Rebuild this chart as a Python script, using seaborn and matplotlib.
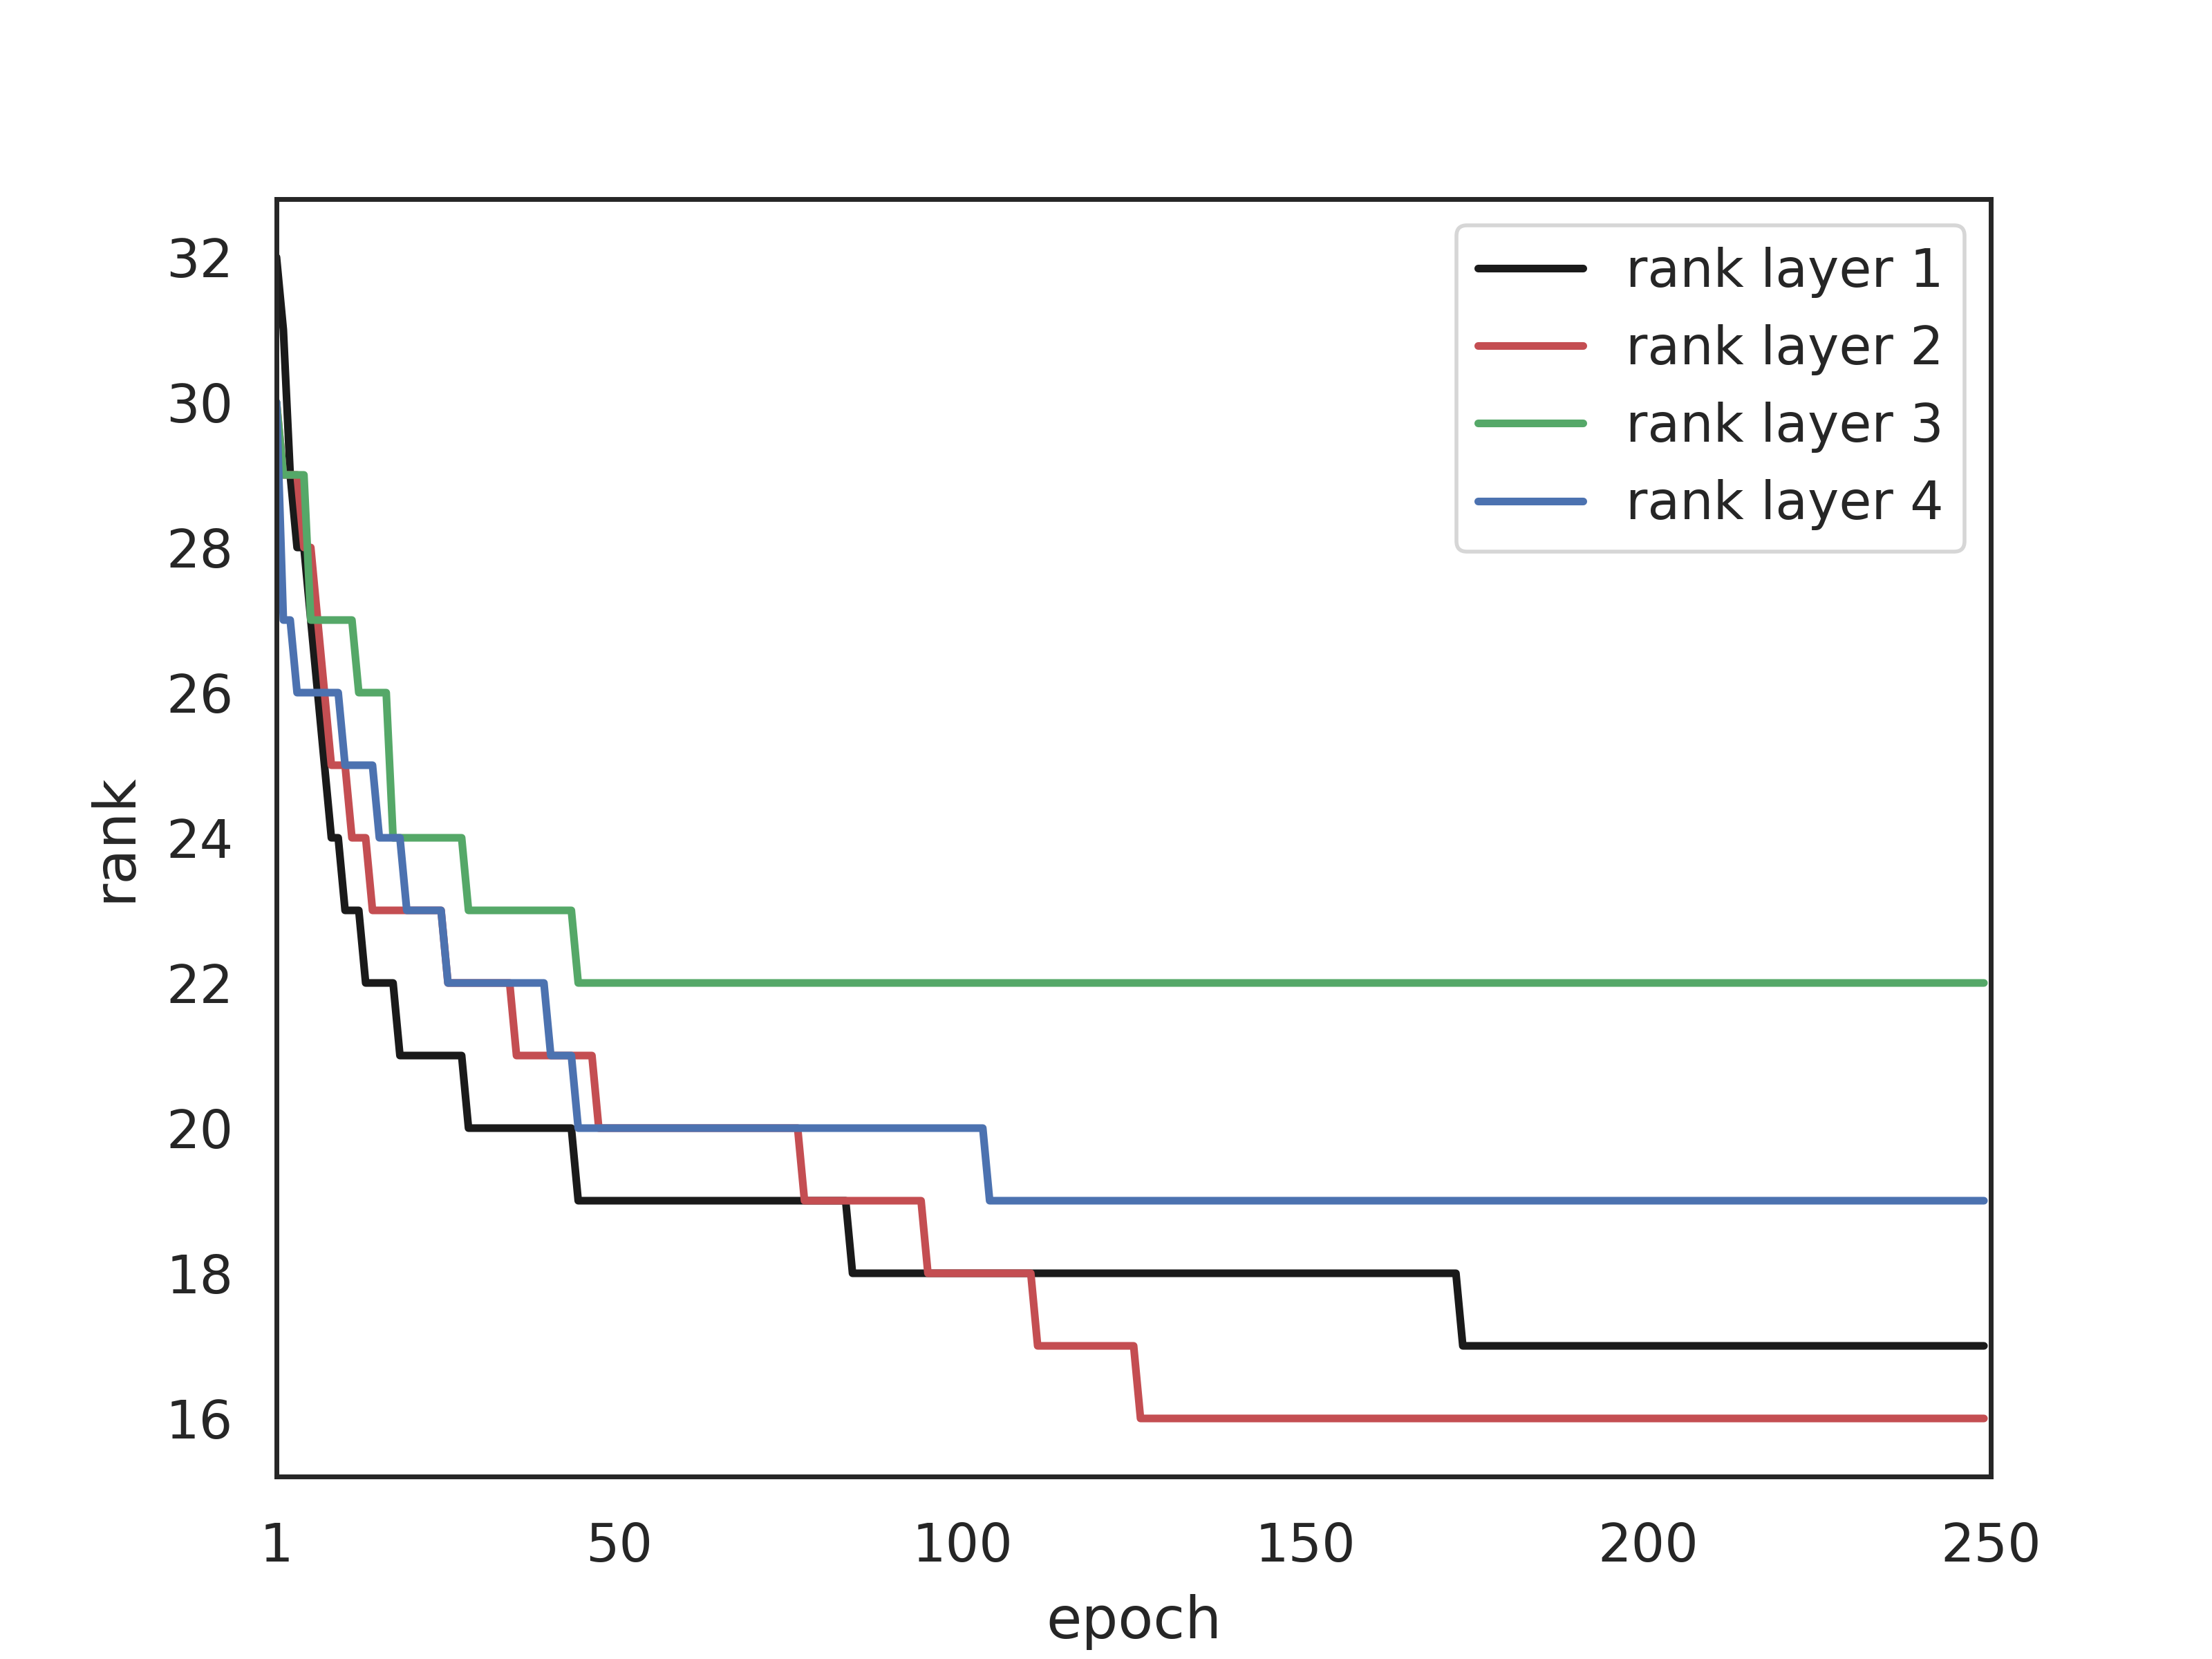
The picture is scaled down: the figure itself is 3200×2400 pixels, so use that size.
import numpy as np
import pandas as pd
import matplotlib
matplotlib.use('Agg')
import matplotlib.pyplot as plt
import seaborn as sns

# Rank de cada camada ao longo das epocas:
# valor do rank e quantas epocas ele se mantem
rank1_vals = [32, 31, 29, 28, 27, 26, 25, 24, 23, 22, 21, 20, 19, 18, 17]
rank1_lens = [1, 1, 1, 2, 1, 1, 1, 2, 3, 5, 10, 16, 40, 89, 77]

rank2_vals = [30, 29, 28, 27, 26, 25, 24, 23, 22, 21, 20, 19, 18, 17, 16]
rank2_lens = [1, 3, 2, 1, 1, 3, 3, 11, 10, 12, 30, 18, 16, 15, 124]

rank3_vals = [30, 29, 27, 26, 24, 23, 22]
rank3_lens = [1, 4, 7, 5, 11, 16, 206]

rank4_vals = [30, 27, 26, 25, 24, 23, 22, 21, 20, 19]
rank4_lens = [1, 2, 7, 5, 4, 6, 15, 4, 60, 146]

labels = ['rank layer 1', 'rank layer 2', 'rank layer 3', 'rank layer 4']
colors = ['k', 'r', 'g', 'b']

xtick_pos = [0, 50, 100, 150, 200, 250]
xtick_labels = ['1', '50', '100', '150', '200', '250']

series = [(rank1_vals, rank1_lens), (rank2_vals, rank2_lens),
          (rank3_vals, rank3_lens), (rank4_vals, rank4_lens)]

sns.set(style='white', font_scale=1.25,
        rc={'xtick.major.pad': 5.7, 'ytick.major.pad': 5.3})

fig, ax = plt.subplots(figsize=(8, 6))

for (vals, lens), lab, c in zip(series, labels, colors):
    rank = np.repeat(vals, lens)
    dt = pd.DataFrame({'epoch': np.arange(len(rank)), 'rank': rank})
    sns.lineplot(x='epoch', y='rank', data=dt, color=c, label=lab,
                 linewidth=2, errorbar=None, ax=ax)

ax.set_xlim(0, 250)
ax.set_xticks(xtick_pos)
ax.set_xticklabels(xtick_labels)
ax.set_xlabel('epoch', labelpad=5.5)
ax.set_ylabel('rank', labelpad=6)
ax.legend(loc='upper right')

plt.savefig('out.png', format='png', dpi=400)
plt.close()
